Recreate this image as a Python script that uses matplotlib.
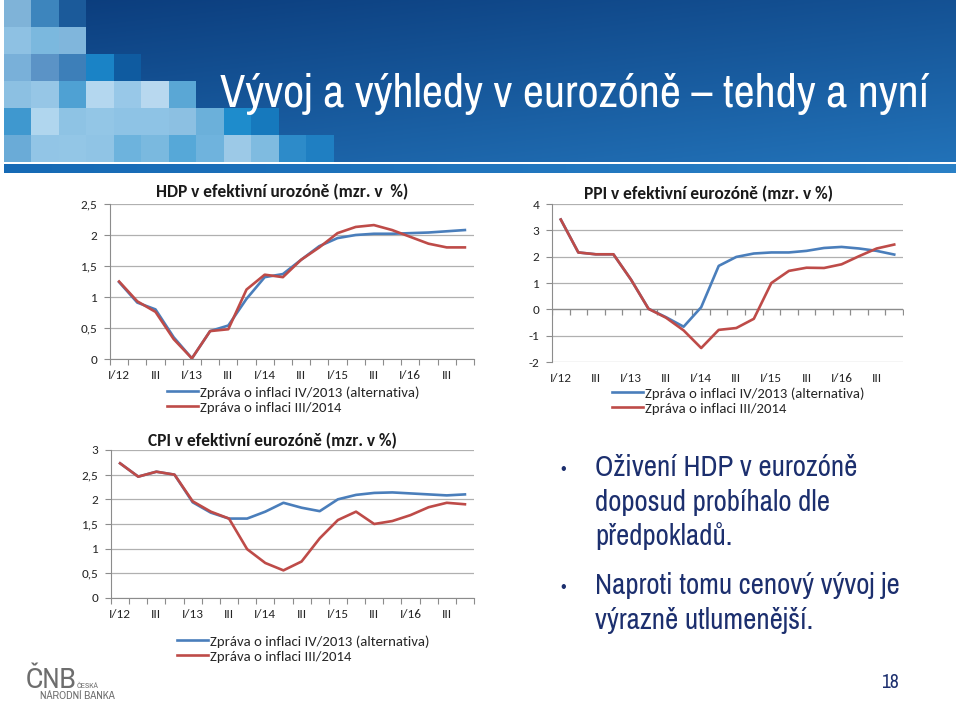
import numpy as np
import matplotlib
matplotlib.use("Agg")
import matplotlib.pyplot as plt
import matplotlib.markers as mmarkers
from matplotlib import font_manager as fm
from matplotlib.lines import Line2D

W, H = 960, 701

# Čtvrtletí I/12 .. IV/16
quarters = [f"{q}/{y}" for y in range(12, 17) for q in ("I", "II", "III", "IV")]
xlabels = ["I/12", "III", "I/13", "III", "I/14", "III", "I/15", "III", "I/16", "III"]

legend_labels = ["Zpráva o inflaci IV/2013 (alternativa)", "Zpráva o inflaci III/2014"]

# HDP
hdp_old = [1.24, 0.91, 0.80, 0.35, 0.01, 0.45, 0.54, 0.97, 1.32, 1.37,
           1.60, 1.82, 1.95, 2.00, 2.02, 2.02, 2.03, 2.04, 2.06, 2.08]
hdp_new = [1.25, 0.93, 0.76, 0.32, 0.01, 0.45, 0.48, 1.12, 1.36, 1.32,
           1.60, 1.80, 2.03, 2.13, 2.16, 2.08, 1.97, 1.86, 1.80, 1.80]
hdp_yticks = [0, 0.5, 1, 1.5, 2, 2.5]
hdp_ylabels = ["0", "0,5", "1", "1,5", "2", "2,5"]

# PPI
ppi_old = [3.41, 2.16, 2.09, 2.09, 1.13, 0.02, -0.30, -0.66, 0.08, 1.65,
           1.99, 2.12, 2.16, 2.16, 2.22, 2.33, 2.37, 2.31, 2.22, 2.08]
ppi_new = [3.41, 2.16, 2.09, 2.09, 1.13, 0.02, -0.32, -0.80, -1.47, -0.78,
           -0.71, -0.36, 1.00, 1.46, 1.58, 1.57, 1.71, 2.02, 2.31, 2.46]
ppi_yticks = [-2, -1, 0, 1, 2, 3, 4]
ppi_ylabels = ["-2", "-1", "0", "1", "2", "3", "4"]

# CPI
cpi_old = [2.73, 2.46, 2.56, 2.50, 1.94, 1.73, 1.61, 1.61, 1.75, 1.93,
           1.83, 1.76, 2.00, 2.09, 2.13, 2.14, 2.12, 2.10, 2.08, 2.10]
cpi_new = [2.73, 2.46, 2.56, 2.50, 1.96, 1.75, 1.61, 0.99, 0.71, 0.56,
           0.74, 1.21, 1.58, 1.75, 1.50, 1.56, 1.68, 1.84, 1.93, 1.90]
cpi_yticks = [0, 0.5, 1, 1.5, 2, 2.5, 3]
cpi_ylabels = ["0", "0,5", "1", "1,5", "2", "2,5", "3"]

BLUE = "#4a7ebb"
RED = "#be4b48"
GRID = "#b0b0b0"
TXT = "#262626"
NAVY = "#1c2f6e"

installed = {f.name for f in fm.fontManager.ttflist}


def pick(prefs):
    for p in prefs:
        if p in installed:
            return [p, "DejaVu Sans"]
    return ["DejaVu Sans"]


NARROW = pick(["Liberation Sans Narrow", "Arial Narrow", "Archivo Narrow",
               "PT Sans Narrow", "Roboto Condensed", "Pragati Narrow",
               "Open Sans Condensed", "Liberation Sans"])
CHART_FONT = pick(["Carlito", "Calibri", "Lato", "Open Sans"])


def box(x0, y0, x1, y1):
    return [x0 / W, 1 - y1 / H, (x1 - x0) / W, (y1 - y0) / H]


fig = plt.figure(figsize=(W / 100, H / 100), dpi=100)
fig.patch.set_facecolor("white")
renderer = fig.canvas.get_renderer()


def fit(t, width_px):
    # přizpůsobení velikosti písma šířce textu v předloze
    w = t.get_window_extent(renderer).width
    t.set_fontsize(t.get_fontsize() * width_px / w)
    return t.get_fontsize()


# ---- záhlaví ----
hdr = fig.add_axes(box(4, 0, 956, 162))
grad = np.linspace(0, 1, 200)[:, None] * 0.6 + np.linspace(0, 1, 400)[None, :] * 0.4
c0 = np.array([0x0b, 0x3c, 0x7c]) / 255
c1 = np.array([0x22, 0x72, 0xb8]) / 255
img = c0[None, None, :] + (c1 - c0)[None, None, :] * grad[:, :, None]
hdr.imshow(img, aspect="auto", extent=[0, 1, 0, 1])
hdr.axis("off")

mosaic = [
    ["#7fb3d8", "#3d85bd", "#1b5a9a"],
    ["#8ec1e3", "#7bb8de", "#80b6dc"],
    ["#79b0d9", "#5b93c6", "#3d7fb9", "#1a83c6", "#0f5ba0"],
    ["#8cc0e2", "#96c6e6", "#4fa1d3", "#b4d7ef", "#98c8e8", "#b8d8ef", "#5aa7d5"],
    ["#3f98cf", "#b0d6ee", "#8ec3e4", "#93c6e6", "#8ec3e5", "#8ec3e5", "#8cc0e2",
     "#6bb0da", "#1e8ccc", "#1679bd"],
    ["#6aabd7", "#92c5e6", "#93c6e6", "#90c4e5", "#6db3dd", "#7ab9df", "#56a8d8",
     "#6fb3dd", "#9cc9e7", "#7fbbe0", "#2d8bc9", "#1f7fc2"],
]
ncol = 12
rgba = np.zeros((len(mosaic), ncol, 4))
for r, row in enumerate(mosaic):
    for c, col in enumerate(row):
        rgba[r, c] = matplotlib.colors.to_rgba(col)
mos = fig.add_axes(box(4, 0, 4 + ncol * 27.5, 162))
mos.imshow(rgba, aspect="auto", interpolation="nearest")
mos.axis("off")

band = fig.add_axes(box(4, 164, 956, 173))
b0 = np.array([0x16, 0x6a, 0xb5]) / 255
b1 = np.array([0x2a, 0x80, 0xc6]) / 255
band.imshow(b0[None, None, :] + (b1 - b0)[None, None, :] * np.linspace(0, 1, 200)[None, :, None],
            aspect="auto")
band.axis("off")

title = fig.text(220 / W, 1 - 107 / H, "Vývoj a výhledy v eurozóně – tehdy a nyní",
                 color="white", fontsize=30, family=NARROW, va="baseline", ha="left")
fit(title, 710)


# ---- grafy ----
def chart(rect, name, old, new, yticks, ylabels, title_xy, leg_xy, cross_zero=False):
    ax = fig.add_axes(box(*rect))
    x = np.arange(len(quarters))
    ax.plot(x, old, color=BLUE, lw=1.9, solid_joinstyle="round", zorder=3)
    ax.plot(x, new, color=RED, lw=1.9, solid_joinstyle="round", zorder=4)
    ax.set_xlim(-0.5, len(quarters) - 0.5)
    ax.set_ylim(yticks[0], yticks[-1])
    ax.set_yticks(yticks)
    ax.set_yticklabels(ylabels)
    ax.yaxis.grid(True, color=GRID, lw=0.9)
    ax.set_axisbelow(True)
    for s in ("top", "right"):
        ax.spines[s].set_visible(False)
    ax.spines["left"].set_color("#8c8c8c")
    ax.spines["bottom"].set_color("#8c8c8c")
    ax.tick_params(axis="y", length=4, color="#8c8c8c", labelsize=9.5,
                   labelcolor=TXT, pad=5)
    bounds = np.arange(-0.5, len(quarters), 1.0)
    ax.set_xticks(x[::2], minor=True)
    ax.set_xticklabels(xlabels, minor=True)
    ax.tick_params(axis="x", which="minor", length=0, labelsize=9.5,
                   labelcolor=TXT, pad=8)
    if cross_zero:
        ax.spines["bottom"].set_visible(False)
        ax.set_xticks([])
        ax.axhline(0, color="#8c8c8c", lw=0.9, zorder=2)
        ax.plot(bounds, np.zeros_like(bounds), ls="none", marker=mmarkers.TICKDOWN,
                ms=4, mew=0.9, color="#8c8c8c", zorder=2)
    else:
        ax.set_xticks(bounds)
        ax.set_xticklabels([])
        ax.tick_params(axis="x", which="major", length=4, color="#8c8c8c")
    for t in ax.get_xticklabels(minor=True) + ax.get_yticklabels():
        t.set_family(CHART_FONT)
    fig.text(title_xy[0] / W, 1 - title_xy[1] / H, name, fontsize=12.5,
             fontweight="bold", family=CHART_FONT, color="#1a1a1a",
             ha="center", va="center")
    handles = [Line2D([], [], color=BLUE, lw=1.9), Line2D([], [], color=RED, lw=1.9)]
    ax.legend(handles, legend_labels, loc="upper left",
              bbox_to_anchor=(leg_xy[0] / W, 1 - leg_xy[1] / H),
              bbox_transform=fig.transFigure, frameon=False, borderpad=0,
              borderaxespad=0, handlelength=2.1, handletextpad=0.12,
              labelspacing=0.18, prop={"family": CHART_FONT, "size": 10.6},
              labelcolor=TXT)
    return ax


chart((110, 204, 474, 359), "HDP v efektivní urozóně (mzr. v  %)",
      hdp_old, hdp_new, hdp_yticks, hdp_ylabels, (282, 192), (167, 386))
chart((552, 204, 903, 362), "PPI v efektivní eurozóně (mzr. v %)",
      ppi_old, ppi_new, ppi_yticks, ppi_ylabels, (708, 194), (612, 387),
      cross_zero=True)
chart((111, 450, 474, 598), "CPI v efektivní eurozóně (mzr. v %)",
      cpi_old, cpi_new, cpi_yticks, cpi_ylabels, (272, 441), (177, 635))

# ---- odrážky ----
bullets = [["Oživení HDP v eurozóně", "doposud probíhalo dle", "předpokladů."],
           ["Naproti tomu cenový vývoj je", "výrazně utlumenější."]]
baselines = [[476, 511, 545], [594, 629]]
probe = fig.text(0, 0, bullets[0][0], fontsize=20, family=NARROW)
bsize = fit(probe, 262)
probe.remove()
for lines, ys in zip(bullets, baselines):
    fig.text(560 / W, 1 - ys[0] / H, "•", color=NAVY, fontsize=bsize * 0.7,
             family=NARROW, va="baseline", ha="left")
    for line, yb in zip(lines, ys):
        fig.text(595 / W, 1 - yb / H, line, color=NAVY, fontsize=bsize,
                 family=NARROW, va="baseline", ha="left")

# ---- zápatí ----
fig.text(26 / W, 1 - 688 / H, "ČNB", color="#6d6d6d", fontsize=21,
         family=NARROW, va="baseline", ha="left")
t1 = fig.text(77 / W, 1 - 688 / H, "ČESKÁ", color="#6d6d6d", fontsize=7,
              family=NARROW, va="baseline", ha="left")
fit(t1, 22)
t2 = fig.text(40 / W, 1 - 699 / H, "NÁRODNÍ BANKA", color="#6d6d6d", fontsize=7,
              family=NARROW, va="baseline", ha="left")
fit(t2, 75)
fig.text(890 / W, 1 - 682 / H, "18", color=NAVY, fontsize=14,
         family=NARROW, va="center", ha="center")

fig.savefig("out.png", dpi=100)
